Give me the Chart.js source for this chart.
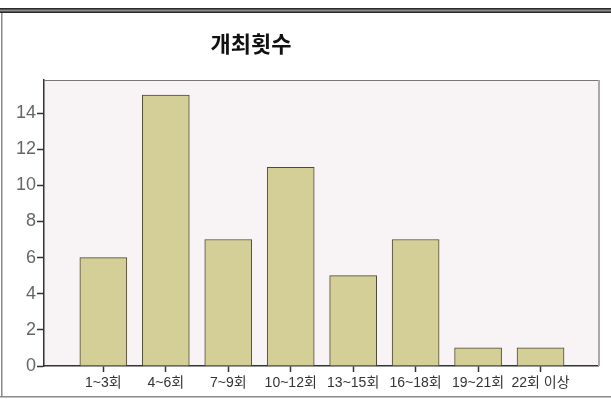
<!DOCTYPE html>
<html>
<head>
<meta charset="utf-8">
<script src="https://cdn.jsdelivr.net/npm/chart.js@4"></script>
<style>
  html, body { margin: 0; padding: 0; background: #fff; }
  #wrap { width: 611px; height: 399px; }
</style>
</head>
<body>
<div id="wrap"><canvas id="chart" width="611" height="399"></canvas></div>
<script>
// 개최횟수 분포
const chartTitle = '개최횟수';
const categories = ['1~3회', '4~6회', '7~9회', '10~12회', '13~15회', '16~18회', '19~21회', '22회 이상'];
const counts = [6, 15, 7, 11, 5, 7, 1, 1];
const yTicks = [0, 2, 4, 6, 8, 10, 12, 14];

// frame, plot background and title
const framePlugin = {
    id: 'frame',
    beforeDraw(chart) {
        const { ctx, chartArea: a, width, height } = chart;
        ctx.save();
        ctx.fillStyle = '#fff';
        ctx.fillRect(0, 0, width, height);

        // top double rule
        ctx.fillStyle = '#2a2a2a';
        ctx.fillRect(0, 8, width, 5);
        ctx.fillStyle = '#8a8a8a';
        ctx.fillRect(0, 9.5, width, 2);
        // left and bottom rules
        ctx.fillStyle = '#8a8a8a';
        ctx.fillRect(1, 13, 1.5, height - 15);
        ctx.fillRect(0, height - 3, width, 1.5);

        // plot background
        ctx.fillStyle = '#f8f3f5';
        ctx.fillRect(a.left, a.top, a.right - a.left, a.bottom - a.top);

        // title
        ctx.fillStyle = '#111';
        ctx.font = 'bold 22px "Noto Sans CJK KR", sans-serif';
        ctx.textAlign = 'center';
        ctx.textBaseline = 'middle';
        ctx.fillText(chartTitle, 251, 44);
        ctx.restore();
    },
    afterDraw(chart) {
        const { ctx, chartArea: a } = chart;
        ctx.save();
        ctx.strokeStyle = '#777';
        ctx.lineWidth = 1;
        ctx.beginPath();
        ctx.moveTo(a.left, a.top + 0.5);
        ctx.lineTo(a.right, a.top + 0.5);
        ctx.stroke();
        ctx.strokeStyle = '#aaa';
        ctx.lineWidth = 2;
        ctx.beginPath();
        ctx.moveTo(a.right + 1, a.top);
        ctx.lineTo(a.right + 1, a.bottom);
        ctx.stroke();
        ctx.restore();
    }
};

new Chart(document.getElementById('chart'), {
    type: 'bar',
    data: {
        datasets: [{
            data: counts.map((v, i) => ({ x: i + 1, y: v })),
            backgroundColor: '#d4cf96',
            borderColor: '#4e4a36',
            borderWidth: 1,
            borderSkipped: 'bottom',
            barThickness: 47
        }]
    },
    options: {
        responsive: false,
        animation: false,
        events: [],
        layout: { padding: { top: 80, right: 13, left: 0, bottom: 0 } },
        plugins: {
            legend: { display: false },
            tooltip: { enabled: false }
        },
        scales: {
            x: {
                type: 'linear',
                offset: false,
                min: 0.05,
                max: 8.92,
                afterBuildTicks: s => { s.ticks = categories.map((c, i) => ({ value: i + 1 })); },
                afterFit: s => { s.height = 33; },
                grid: { offset: false, drawOnChartArea: false, tickLength: 6, tickWidth: 1.5, color: '#333' },
                border: { display: true, color: '#333', width: 1.5 },
                ticks: {
                    callback: v => categories[v - 1],
                    autoSkip: false,
                    maxRotation: 0,
                    padding: 3,
                    color: '#333',
                    font: { family: '"Liberation Sans", "Noto Sans CJK KR", sans-serif', size: 14 }
                }
            },
            y: {
                min: 0,
                max: 15.83,
                afterBuildTicks: s => { s.ticks = yTicks.map(v => ({ value: v })); },
                afterFit: s => { s.width = 44; },
                grid: { drawOnChartArea: false, tickLength: 7, tickWidth: 1.5, color: '#333' },
                border: { display: true, color: '#333', width: 1.5 },
                ticks: {
                    padding: 1,
                    color: '#666',
                    font: { family: '"Liberation Sans", sans-serif', size: 18 }
                }
            }
        }
    },
    plugins: [framePlugin]
});
</script>
</body>
</html>
